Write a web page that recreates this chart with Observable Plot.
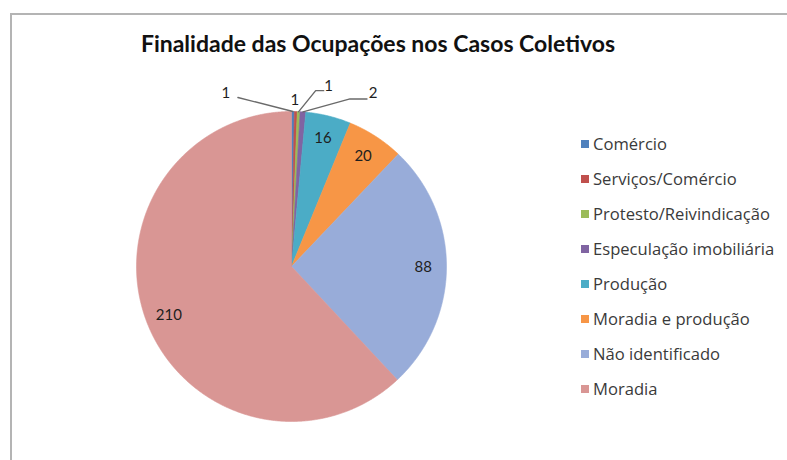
<!DOCTYPE html>
<html><head><meta charset="utf-8">
<script src="https://cdn.jsdelivr.net/npm/d3@7"></script>
<script src="https://cdn.jsdelivr.net/npm/@observablehq/plot@0.6"></script>
<style>
body{margin:0;background:#fff;}
#wrap{position:relative;width:787px;height:460px;overflow:hidden;font-family:Lato,"Open Sans",sans-serif;background:#fff;}
#frame{position:absolute;left:10px;top:13px;width:820px;height:500px;border-top:2px solid #b4b4b4;border-left:2px solid #b4b4b4;}
#title{position:absolute;left:0;top:29px;width:756px;text-align:center;font:bold 23px Lato,"Open Sans",sans-serif;color:#111;white-space:nowrap;}
#chart{position:absolute;left:0;top:0;}
#legend{position:absolute;left:581px;top:126px;width:206px;}
#legend [class$="-swatches"]{width:206px;margin:0;}
#legend [class$="-swatch"]{height:35px;margin:0;padding:0;display:flex;align-items:center;font:16.6px "Open Sans",Lato,sans-serif;color:#3a3a3a;}
#legend [class$="-label"]{overflow:visible;text-overflow:clip;white-space:nowrap;}
#legend svg{margin-right:4px !important;}
</style></head>
<body>
<div id="wrap"><div id="frame"></div><div id="title"></div><div id="chart"></div><div id="legend"></div></div>
<script>
const titleText = "Finalidade das Ocupações nos Casos Coletivos";
const categories = ["Comércio","Serviços/Comércio","Protesto/Reivindicação","Especulação imobiliária","Produção","Moradia e produção","Não identificado","Moradia"];
const values = [1,1,1,2,16,20,88,210];
const colors = ["#4F81BD","#C0504D","#9BBB59","#8064A2","#4BACC6","#F79646","#98ACD9","#D99694"];

// layout (pixels) for the small outside labels: leader bend points and text offset from the arc anchor
const outsideLayout = [
  {pts: [[-55,-14]], text: [-67,-18]},
  {pts: [], text: [-1,-11]},
  {pts: [[17,-21],[25,-21]], text: [30,-25]},
  {pts: [[47,-13],[64,-13]], text: [70,-19]}
];

document.getElementById("title").textContent = titleText;

const R = 155, CX = 291, CY = 266, W = 787, H = 460;
const arcs = d3.pie().sort(null).value(d => d)(values);
const rows = arcs.map((a, i) => ({name: categories[i], value: values[i], a0: a.startAngle, a1: a.endAngle, mid: (a.startAngle + a.endAngle) / 2}));

const poly = [];
rows.forEach(r => {
  poly.push({name: r.name, x: 0, y: 0});
  const n = Math.max(2, Math.ceil((r.a1 - r.a0) / 0.005));
  for (let k = 0; k <= n; k++) {
    const t = r.a0 + (r.a1 - r.a0) * k / n;
    poly.push({name: r.name, x: Math.sin(t), y: Math.cos(t)});
  }
  poly.push({name: r.name, x: 0, y: 0});
});

const inside = rows.filter((r, i) => i >= outsideLayout.length).map(r => ({label: String(r.value), x: 0.85 * Math.sin(r.mid), y: 0.85 * Math.cos(r.mid)}));
const leaders = [], outside = [];
rows.slice(0, outsideLayout.length).forEach((r, i) => {
  const ax = Math.sin(r.mid), ay = Math.cos(r.mid);
  const L = outsideLayout[i];
  if (L.pts.length) {
    leaders.push({name: r.name, x: ax, y: ay});
    L.pts.forEach(p => leaders.push({name: r.name, x: ax + p[0] / R, y: ay - p[1] / R}));
  }
  outside.push({label: String(r.value), x: ax + L.text[0] / R, y: ay - L.text[1] / R});
});

const chart = Plot.plot({
  width: W, height: H,
  marginLeft: CX - R, marginRight: W - (CX + R), marginTop: CY - R, marginBottom: H - (CY + R),
  x: {domain: [-1, 1], axis: null},
  y: {domain: [-1, 1], axis: null},
  color: {domain: categories, range: colors},
  style: {background: "transparent", fontFamily: "Lato, 'Open Sans', sans-serif", overflow: "visible"},
  marks: [
    Plot.line(poly, {x: "x", y: "y", z: "name", fill: "name", stroke: "name", strokeWidth: 0.6, curve: "linear"}),
    Plot.line(leaders, {x: "x", y: "y", z: "name", stroke: "#6a6a6a", strokeWidth: 1.4}),
    Plot.text(inside, {x: "x", y: "y", text: "label", fill: "#1e1e1e", fontSize: 15}),
    Plot.text(outside, {x: "x", y: "y", text: "label", fill: "#1e1e1e", fontSize: 15})
  ]
});
document.getElementById("chart").appendChild(chart);
const leg = chart.legend("color", {legend: "swatches", columns: 1, swatchSize: 8, className: "lg"});
document.getElementById("legend").appendChild(leg);
</script>
</body></html>
